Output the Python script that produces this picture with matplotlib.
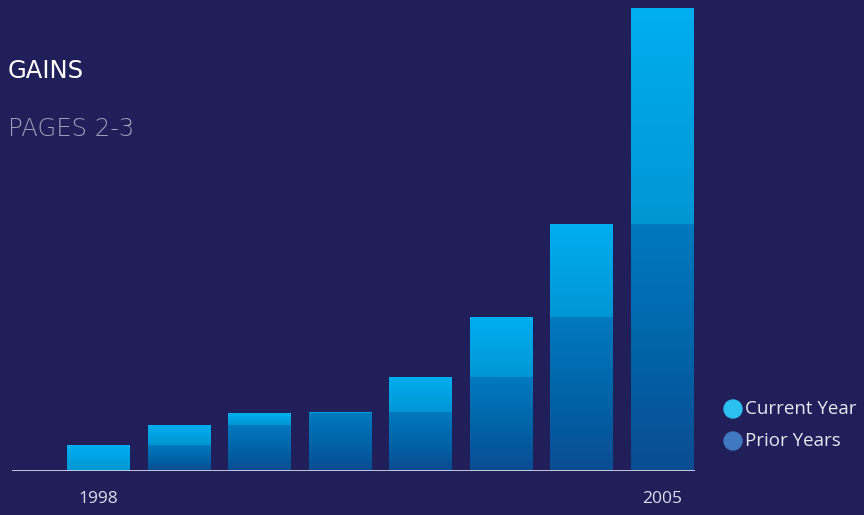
import numpy as np
import matplotlib.pyplot as plt
from matplotlib.colors import LinearSegmentedColormap
from matplotlib.patches import Rectangle, Ellipse

years = ['1998', '1999', '2000', '2001', '2002', '2003', '2004', '2005']
prior_years = [0, 26, 46, 58, 59, 94, 154, 247]
current_year = [26, 20, 12, 1, 35, 60, 93, 216]
tick_years = {'1998': 0, '2005': 7}

bg = '#211f5a'
cur_cmap = LinearSegmentedColormap.from_list('cur', ['#0096d4', '#00aeef'])
pri_cmap = LinearSegmentedColormap.from_list('pri', ['#0b4c92', '#0064a8', '#0079bf'])

fig = plt.figure(figsize=(8.64, 5.15), dpi=100)
fig.patch.set_facecolor(bg)
ax = fig.add_axes([12 / 864, 44 / 515, 683 / 864, 463 / 515])
ax.set_facecolor(bg)

x = np.arange(len(years))
width = 0.776
total = np.array(prior_years) + np.array(current_year)


def gradient_bar(x0, y0, h, cmap):
    # vertical gradient clipped to the bar rectangle
    if h <= 0:
        return
    grad = np.linspace(0, 1, 64).reshape(-1, 1)
    rect = Rectangle((x0 - width / 2, y0), width, h, transform=ax.transData,
                     facecolor='none', edgecolor='none')
    ax.add_patch(rect)
    im = ax.imshow(grad, cmap=cmap, origin='lower', aspect='auto',
                   extent=(x0 - width / 2, x0 + width / 2, y0, y0 + h),
                   interpolation='bilinear', zorder=2)
    im.set_clip_path(rect)


for i in x:
    gradient_bar(i, 0, prior_years[i], pri_cmap)
    gradient_bar(i, prior_years[i], current_year[i], cur_cmap)

ax.set_xlim(-1.075, 7.41)
ax.set_ylim(0, total.max())
ax.axhline(0, color='#d6d2e6', lw=2, zorder=3)
for s in ax.spines.values():
    s.set_visible(False)
ax.set_xticks([])
ax.set_yticks([])

for label, pos in tick_years.items():
    ax.text(pos, -28, label, ha='center', va='center', color='#dcdcea',
            fontsize=12.5, family='Open Sans')

fig.text(8 / 864, 1 - 71 / 515, 'GAINS', color='white', fontsize=17.5,
         family='DejaVu Sans', va='center')
fig.text(8 / 864, 1 - 129 / 515, 'PAGES 2-3', color='#9aa0b8', fontsize=17.5,
         family='DejaVu Sans', fontweight='light', va='center')

# legend
legend_items = [('Current Year', '#2bc0f0'), ('Prior Years', '#4079c0')]
for k, (name, col) in enumerate(legend_items):
    yy = 1 - (409 + 32 * k) / 515
    fig.add_artist(Ellipse((733 / 864, yy), 18 / 864, 18 / 515, color=col,
                           transform=fig.transFigure))
    fig.text(745 / 864, yy, name, color='#e8e8f2', fontsize=13.5,
             family='Open Sans', va='center')

fig.savefig('out.png', dpi=100, facecolor=bg)
